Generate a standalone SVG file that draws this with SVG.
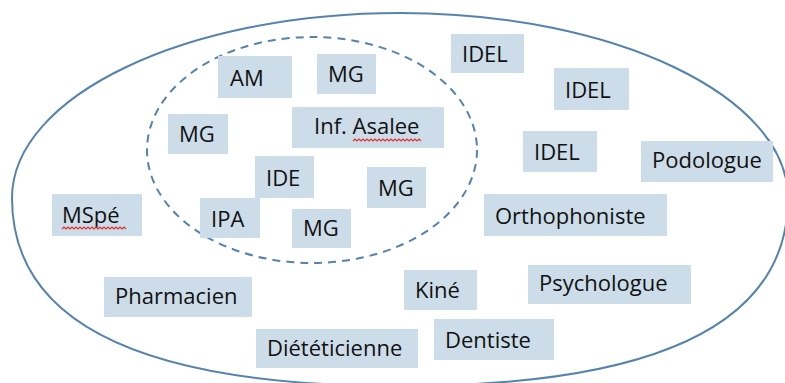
<svg xmlns="http://www.w3.org/2000/svg" width="785" height="383" viewBox="0 0 785 383">
<style>
.b{fill:#ccdde9}
.t{font-family:"Open Sans","Noto Sans","DejaVu Sans",sans-serif;font-size:22px;fill:#111}
.sq{fill:none;stroke:#e03030;stroke-width:1.2}
.ln{fill:none;stroke:#5583ad;stroke-width:2}
</style>
<rect width="785" height="383" fill="#fff"/>
<g id="boundaries">
<path id="outer" class="ln" d="M400,13 C614,13 788,96 788,198 C788,328 650,386 400,386 C150,386 12,328 12,198 C12,96 186,13 400,13 Z"/>
<ellipse id="inner" class="ln" cx="312" cy="150" rx="165" ry="113" stroke-dasharray="8,6"/>
</g>
<g id="n-am"><rect class="b" x="218" y="56" width="74" height="42"/><text class="t" x="230" y="86">AM</text></g>
<g id="n-mg1"><rect class="b" x="317" y="54" width="59" height="40"/><text class="t" x="328" y="82">MG</text></g>
<g id="n-mg2"><rect class="b" x="168" y="114" width="60" height="40"/><text class="t" x="179" y="142">MG</text></g>
<g id="n-asalee"><rect class="b" x="292" y="107" width="152" height="41"/><text class="t" x="314" y="134">Inf. Asalee</text><path class="sq" d="M353,141 l2,-2 l2,2 l2,-2 l2,2 l2,-2 l2,2 l2,-2 l2,2 l2,-2 l2,2 l2,-2 l2,2 l2,-2 l2,2 l2,-2 l2,2 l2,-2 l2,2 l2,-2 l2,2 l2,-2 l2,2 l2,-2 l2,2 l2,-2 l2,2 l2,-2 l2,2 l2,-2 l2,2 l2,-2 l2,2 l2,-2 l2,2"/></g>
<g id="n-ide"><rect class="b" x="255" y="156" width="59" height="42"/><text class="t" x="266" y="186">IDE</text></g>
<g id="n-mg3"><rect class="b" x="367" y="167" width="59" height="41"/><text class="t" x="378" y="196">MG</text></g>
<g id="n-ipa"><rect class="b" x="200" y="198" width="60" height="40"/><text class="t" x="211" y="227">IPA</text></g>
<g id="n-mg4"><rect class="b" x="292" y="209" width="59" height="39"/><text class="t" x="303" y="236">MG</text></g>
<g id="n-mspe"><rect class="b" x="52" y="194" width="90" height="42"/><text class="t" x="62" y="223">MSpé</text><path class="sq" d="M62,229 l2,-2 l2,2 l2,-2 l2,2 l2,-2 l2,2 l2,-2 l2,2 l2,-2 l2,2 l2,-2 l2,2 l2,-2 l2,2 l2,-2 l2,2 l2,-2 l2,2 l2,-2 l2,2 l2,-2 l2,2 l2,-2 l2,2 l2,-2 l2,2 l2,-2 l2,2 l2,-2 l2,2 l2,-2 l2,2"/></g>
<g id="n-pharmacien"><rect class="b" x="104" y="277" width="148" height="40"/><text class="t" x="115" y="304">Pharmacien</text></g>
<g id="n-dieteticienne"><rect class="b" x="256" y="329" width="162" height="39"/><text class="t" x="267" y="356">Diététicienne</text></g>
<g id="n-idel1"><rect class="b" x="451" y="34" width="73" height="39"/><text class="t" x="462" y="62">IDEL</text></g>
<g id="n-idel2"><rect class="b" x="554" y="68" width="75" height="42"/><text class="t" x="565" y="98">IDEL</text></g>
<g id="n-idel3"><rect class="b" x="523" y="131" width="74" height="41"/><text class="t" x="534" y="160">IDEL</text></g>
<g id="n-podologue"><rect class="b" x="641" y="141" width="132" height="41"/><text class="t" x="652" y="168">Podologue</text></g>
<g id="n-orthophoniste"><rect class="b" x="484" y="194" width="183" height="42"/><text class="t" x="495" y="224">Orthophoniste</text></g>
<g id="n-kine"><rect class="b" x="404" y="270" width="73" height="40"/><text class="t" x="415" y="298">Kiné</text></g>
<g id="n-psychologue"><rect class="b" x="528" y="265" width="163" height="39"/><text class="t" x="539" y="291">Psychologue</text></g>
<g id="n-dentiste"><rect class="b" x="434" y="319" width="120" height="41"/><text class="t" x="445" y="348">Dentiste</text></g>
</svg>
